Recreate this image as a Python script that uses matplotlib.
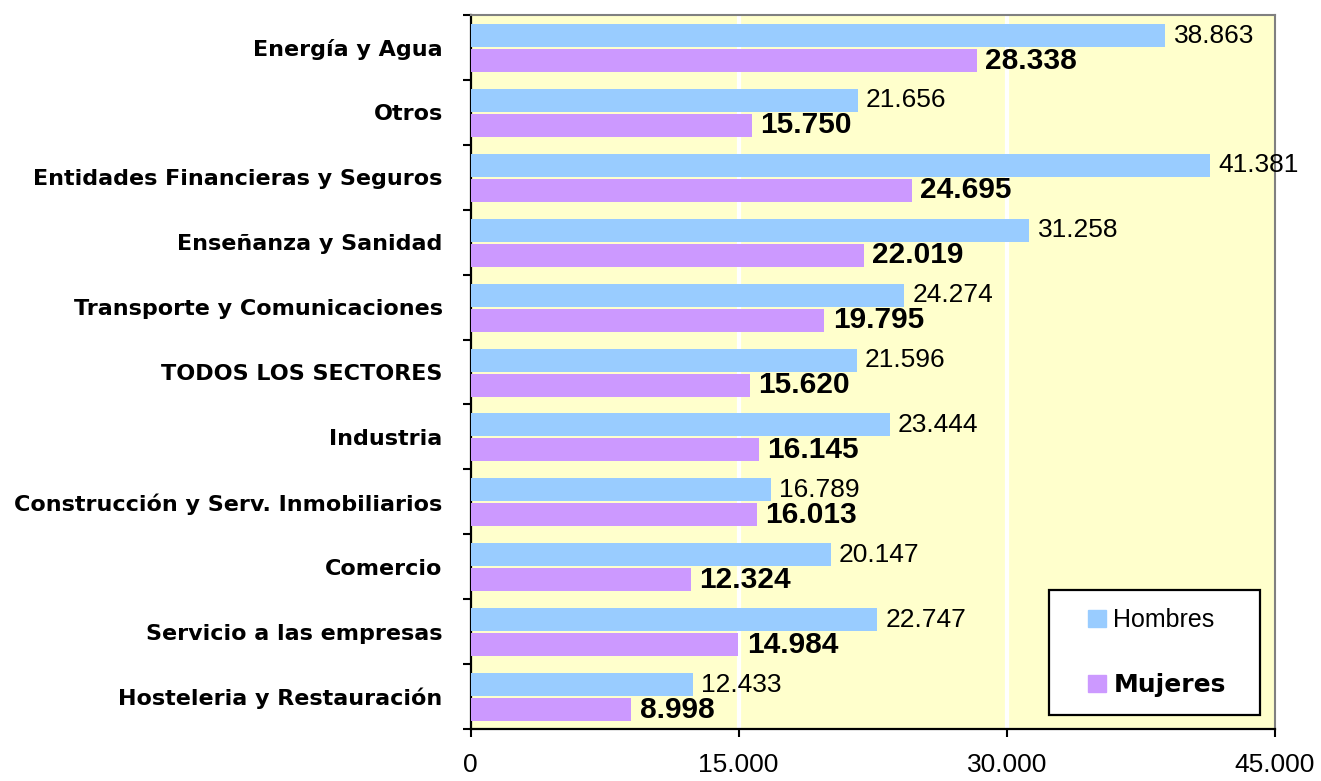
import matplotlib
matplotlib.use('Agg')
import matplotlib.pyplot as plt
import numpy as np
from matplotlib.patches import Rectangle, Patch
from matplotlib.legend_handler import HandlerPatch

categories = ["Energía y Agua", "Otros", "Entidades Financieras y Seguros",
              "Enseñanza y Sanidad", "Transporte y Comunicaciones",
              "TODOS LOS SECTORES", "Industria",
              "Construcción y Serv. Inmobiliarios", "Comercio",
              "Servicio a las empresas", "Hosteleria y Restauración"]
hombres = [38863, 21656, 41381, 31258, 24274, 21596, 23444, 16789, 20147, 22747, 12433]
mujeres = [28338, 15750, 24695, 22019, 19795, 15620, 16145, 16013, 12324, 14984, 8998]
series_names = ["Hombres", "Mujeres"]
x_ticks = [0, 15000, 30000, 45000]
x_tick_labels = ["0", "15.000", "30.000", "45.000"]

C_H = "#99CCFF"
C_M = "#CC99FF"
NUM_FONT = "Liberation Sans"
CAT_FONT = "DejaVu Sans"


def fmt(v):
    return f"{v:,}".replace(",", ".")


fig = plt.figure(figsize=(13.21, 7.81), dpi=100)
ax = fig.add_axes([470.5 / 1321, 1 - 729 / 781, 804.5 / 1321, 714 / 781])
ax.set_facecolor("#FFFFCC")

y = np.arange(len(categories))
h = 0.354
bh = ax.barh(y - 0.184, hombres, height=h, color=C_H, zorder=3, label=series_names[0])
bm = ax.barh(y + 0.201, mujeres, height=h, color=C_M, zorder=3, label=series_names[1])

ax.bar_label(bh, labels=[fmt(v) for v in hombres], padding=6,
             fontsize=19, fontfamily=NUM_FONT, color="black")
ax.bar_label(bm, labels=[fmt(v) for v in mujeres], padding=6,
             fontsize=21.5, fontweight="bold", fontfamily=NUM_FONT, color="black")

ax.set_xlim(x_ticks[0], x_ticks[-1])
ax.set_ylim(len(categories) - 0.5, -0.5)

ax.set_xticks(x_ticks)
ax.set_xticklabels(x_tick_labels, fontsize=19, fontfamily=NUM_FONT)
ax.tick_params(axis="x", length=5.5, width=1.5, pad=12, color="black")

ax.set_yticks(y)
ax.set_yticklabels(categories, fontsize=16, fontweight="bold", fontfamily=CAT_FONT)
ax.tick_params(axis="y", which="major", length=0, pad=20)
ax.set_yticks(np.arange(-0.5, len(categories)), minor=True)
ax.tick_params(axis="y", which="minor", length=6, width=1.5, color="black", direction="out")

ax.xaxis.grid(True, color="white", linewidth=3, zorder=1)
ax.set_axisbelow(True)
gl = ax.get_xgridlines()
gl[0].set_visible(False)
gl[-1].set_visible(False)

for s in ["left", "bottom"]:
    ax.spines[s].set_color("black")
    ax.spines[s].set_linewidth(1.6)
for s in ["top", "right"]:
    ax.spines[s].set_color("#808080")
    ax.spines[s].set_linewidth(1.5)


def square_right(legend, orig_handle, xdescent, ydescent, width, height, fontsize):
    s = 12.5
    return Rectangle((-xdescent + width - s, -ydescent + height / 2 - s / 2), s, s)


handles = [Patch(color=C_H), Patch(color=C_M)]
leg = ax.legend(handles, series_names, loc="upper left", mode="expand",
                bbox_to_anchor=(1049 / 1321, 1 - 713 / 781, 211 / 1321, 123 / 781),
                bbox_transform=fig.transFigure, borderaxespad=0,
                prop={"family": NUM_FONT, "size": 18},
                handler_map={Patch: HandlerPatch(patch_func=square_right)},
                handlelength=1.55, handletextpad=0.3, borderpad=0.72,
                labelspacing=1.65, fancybox=False, framealpha=1,
                edgecolor="black", facecolor="white")
leg.get_frame().set_linewidth(1.6)
leg.get_texts()[1].set_fontweight("bold")
leg.get_texts()[1].set_fontfamily(CAT_FONT)

fig.savefig("out.png", dpi=100)
